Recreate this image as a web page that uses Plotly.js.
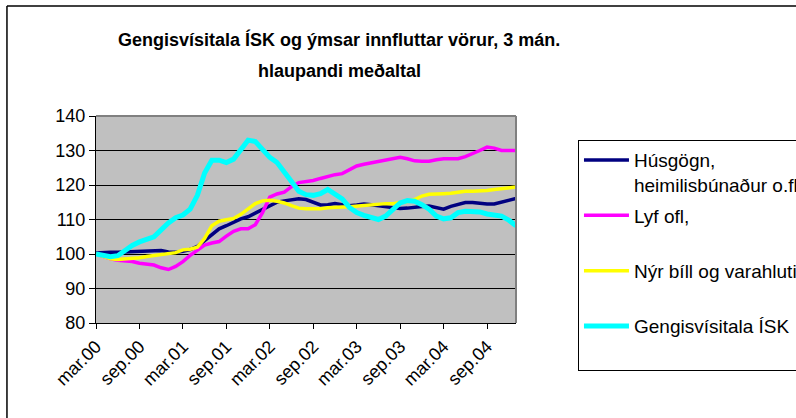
<!DOCTYPE html>
<html>
<head>
<meta charset="utf-8">
<script src="https://cdn.plot.ly/plotly-3.0.1.min.js"></script>
<style>
  body { margin: 0; background: #fff; }
  #chart { width: 796px; height: 418px; }
</style>
</head>
<body>
<div id="chart"></div>
<script>
// months, mar.00 .. jan.05
var months = [
  'mar.00','apr.00','maí.00','jún.00','júl.00','ágú.00','sep.00','okt.00','nóv.00','des.00',
  'jan.01','feb.01','mar.01','apr.01','maí.01','jún.01','júl.01','ágú.01','sep.01','okt.01','nóv.01','des.01',
  'jan.02','feb.02','mar.02','apr.02','maí.02','jún.02','júl.02','ágú.02','sep.02','okt.02','nóv.02','des.02',
  'jan.03','feb.03','mar.03','apr.03','maí.03','jún.03','júl.03','ágú.03','sep.03','okt.03','nóv.03','des.03',
  'jan.04','feb.04','mar.04','apr.04','maí.04','jún.04','júl.04','ágú.04','sep.04','okt.04','nóv.04','des.04',
  'jan.05'
];
var tickMonths = ['mar.00','sep.00','mar.01','sep.01','mar.02','sep.02','mar.03','sep.03','mar.04','sep.04'];

var husgogn = [100.3,100.5,100.5,100.5,100.6,100.6,100.7,100.8,101,101,
  100.6,100.5,100.8,101.3,102.2,104,105.8,107.3,108.2,109.2,
  110.2,110.8,111.8,113,114,115,115.4,115.6,116,115.8,
  115,114.2,114.3,114.6,114.3,114,114.2,114.5,114.3,114,
  113.7,113.5,113.2,113.3,113.6,113.8,113.9,113.5,113,113.8,
  114.4,114.9,114.9,114.6,114.5,114.5,115,115.6,116.1];

var lyf = [100,99.2,98.6,98.2,98,97.8,97.3,97,96.8,96,
  95.5,96.4,97.8,99.6,101.2,102.6,103.2,103.6,105.2,106.6,
  107.3,107.3,108.5,112,116.5,117.4,117.9,119.5,120.7,121,
  121.3,121.9,122.5,123,123.3,124.5,125.5,126,126.4,127,
  127.4,127.6,128,127.6,127,126.9,126.9,127.3,127.6,127.6,
  127.6,128.2,129,130,131,130.7,130,130,130];

var bill = [100,99.2,98.6,98.4,98.5,98.6,98.9,99.3,99.6,99.9,
  100.1,100.4,101.2,101.4,102,104.5,108.2,109.5,109.9,110.3,
  111.5,113,114.6,115.4,115.6,115.3,114.8,114,113.3,113.1,
  113.1,113.1,113.4,113.6,113.6,113.7,113.9,114.1,114.4,114.6,
  114.6,114.6,114.9,115.2,115.8,116.8,117.3,117.5,117.5,117.6,
  118,118.2,118.2,118.2,118.4,118.7,119,119.2,119.4];

var gengi = [100,99.5,99.2,99.5,101,102.5,103.5,104.3,105,107,
  109,110.5,111.3,113,117,123.5,127.2,127.2,126.5,127.5,
  130.5,133,132.6,130.5,128,126.5,123.5,121,118.2,117.2,
  117,117.5,118.7,117.5,116,113.5,112,111.2,110.5,110,
  111,113,114.8,115.5,115.3,114.3,113,111,110.2,110.5,
  112,112.4,112.4,112.2,111.6,111.2,111,109.8,108.2];

var names = ['Húsgögn,<br>heimilisbúnaður o.fl', 'Lyf ofl,<br>\u00a0',
  'Nýr bíll og varahlutir<br>\u00a0', 'Gengisvísitala ÍSK<br>\u00a0'];
var colors = ['#000080', '#FF00FF', '#FFFF00', '#00FFFF'];
var widths = [3.5, 3.5, 3.5, 5];
var series = [husgogn, lyf, bill, gengi];

var data = series.map(function(s, k) {
  return {
    x: months,
    y: s,
    name: names[k],
    legendgroup: 'g' + k,
    type: 'scatter',
    mode: 'lines',
    line: {color: colors[k], width: widths[k]}
  };
});

var layout = {
  width: 796,
  height: 418,
  margin: {l: 96, r: 280, t: 116, b: 95},
  paper_bgcolor: '#ffffff',
  plot_bgcolor: '#C0C0C0',
  font: {family: 'Liberation Sans, Arial, sans-serif', size: 18, color: '#000'},
  title: {
    text: 'Gengisvísitala ÍSK og ýmsar innfluttar vörur, 3 mán.',
    font: {size: 18, weight: 'bold', color: '#000'},
    xref: 'container', x: 0.426, xanchor: 'center',
    yref: 'container', y: 0.904, yanchor: 'middle'
  },
  // second title line, Excel spaces the two lines wider than plotly does
  annotations: [{
    text: 'hlaupandi meðaltal',
    font: {size: 18, weight: 'bold', color: '#000'},
    xref: 'paper', x: 0.5786, xanchor: 'center',
    yref: 'paper', y: 1.217, yanchor: 'middle',
    showarrow: false
  }],
  xaxis: {
    type: 'category',
    categoryarray: months,
    range: [0, months.length - 1],
    tickvals: tickMonths,
    ticktext: tickMonths,
    tickangle: -45,
    ticks: 'outside', ticklen: 5, tickcolor: '#000',
    showline: true, linecolor: '#000', linewidth: 1,
    showgrid: false, zeroline: false
  },
  yaxis: {
    range: [80, 140],
    dtick: 10,
    ticks: 'outside', ticklen: 6, tickcolor: '#000',
    showline: true, linecolor: '#000', linewidth: 1,
    gridcolor: '#000', gridwidth: 1, zeroline: false
  },
  legend: {
    xref: 'container', x: 0.7261, xanchor: 'left',
    yref: 'container', y: 0.665, yanchor: 'top',
    bgcolor: '#fff', bordercolor: '#000', borderwidth: 1,
    font: {size: 19},
    valign: 'top',
    tracegroupgap: 3,
    itemwidth: 45,
    maxheight: 300
  },
  showlegend: true,
  shapes: [
    // grey frame of the plot area, top and right
    {type: 'line', xref: 'paper', yref: 'paper', x0: 0, x1: 1, y0: 1, y1: 1, line: {color: '#808080', width: 2}},
    {type: 'line', xref: 'paper', yref: 'paper', x0: 1, x1: 1, y0: 0, y1: 1, line: {color: '#808080', width: 2}},
    // outer chart border
    {type: 'line', xref: 'paper', yref: 'paper', x0: -0.212, x1: 1.7, y0: 1.531, y1: 1.531, line: {color: '#000', width: 1.5}},
    {type: 'line', xref: 'paper', yref: 'paper', x0: -0.212, x1: -0.212, y0: -0.47, y1: 1.531, line: {color: '#000', width: 1.5}}
  ]
};

Plotly.newPlot('chart', data, layout, {displayModeBar: false, staticPlot: true});
</script>
</body>
</html>
